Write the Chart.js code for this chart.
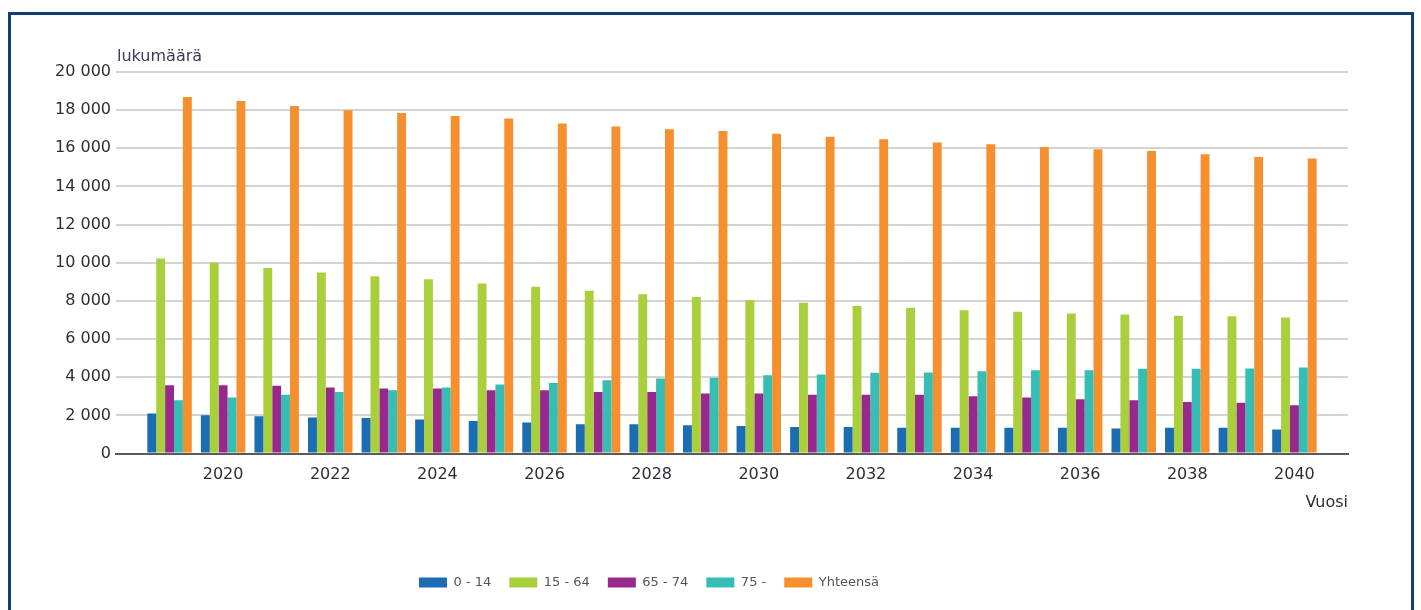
<!DOCTYPE html>
<html lang="fi">
<head>
<meta charset="utf-8">
<title>Väestöennuste ikäryhmittäin</title>
<script src="https://cdn.jsdelivr.net/npm/chart.js@4.4.1/dist/chart.umd.min.js"></script>
<style>
  html, body { margin: 0; padding: 0; background: #fff; overflow: hidden; }
  #wrap { position: relative; width: 1421px; height: 610px; }
  #frame {
    position: absolute; left: 8px; top: 12px; width: 1400px; height: 700px;
    border: 3px solid #133d70; border-bottom: none; pointer-events: none;
  }
  canvas { position: absolute; left: 0; top: 0; }
</style>
</head>
<body>
<div id="wrap">
  <canvas id="chart" width="1421" height="610"></canvas>
  <div id="frame"></div>
</div>
<script>
// --- data ---
const years = [2019, 2020, 2021, 2022, 2023, 2024, 2025, 2026, 2027, 2028, 2029,
               2030, 2031, 2032, 2033, 2034, 2035, 2036, 2037, 2038, 2039, 2040];
const age0to14 = [2100, 2010, 1960, 1890, 1870, 1790, 1710, 1630, 1540, 1540, 1490,
                  1450, 1400, 1400, 1350, 1350, 1350, 1350, 1320, 1350, 1350, 1260];
const age15to64 = [10220, 10010, 9730, 9490, 9300, 9140, 8910, 8740, 8530, 8350, 8210,
                   8040, 7900, 7740, 7650, 7510, 7430, 7340, 7290, 7220, 7200, 7130];
const age65to74 = [3580, 3580, 3550, 3460, 3410, 3410, 3320, 3320, 3230, 3230, 3150,
                   3150, 3090, 3090, 3090, 3010, 2940, 2850, 2800, 2710, 2660, 2540];
const age75plus = [2800, 2940, 3090, 3230, 3320, 3460, 3620, 3700, 3840, 3930, 3970,
                   4100, 4140, 4240, 4250, 4310, 4370, 4370, 4450, 4450, 4460, 4510];
const total = [18690, 18480, 18220, 17990, 17850, 17700, 17560, 17300, 17150, 17000, 16910,
               16770, 16600, 16470, 16300, 16210, 16070, 15950, 15860, 15690, 15550, 15460];

const seriesNames = ['0 - 14', '15 - 64', '65 - 74', '75 -', 'Yhteensä'];
const xTickYears = [2020, 2022, 2024, 2026, 2028, 2030, 2032, 2034, 2036, 2038, 2040];
const yTickValues = [0, 2000, 4000, 6000, 8000, 10000, 12000, 14000, 16000, 18000, 20000];

const COLORS = ['#1a6db3', '#a9cf3c', '#99288e', '#36bdb4', '#f6902e'];
const FONT = "'DejaVu Sans', sans-serif";
const TEXT = '#2e2e3a';

const fmtThousands = v => String(v).replace(/\B(?=(\d{3})+(?!\d))/g, ' ');

// "lukumäärä" sits above the plot's left edge; legend is centred on its own spot
const extrasPlugin = {
  id: 'extras',
  afterLayout(chart) {
    const lg = chart.legend;
    if (lg) {
      const shift = 649 - (lg.left + lg.right) / 2;
      lg.left += shift; lg.right += shift;
    }
  },
  afterDraw(chart) {
    const { ctx, chartArea } = chart;
    ctx.save();
    ctx.font = '16px ' + FONT;
    ctx.fillStyle = '#3a3a58';
    ctx.textBaseline = 'middle';
    ctx.textAlign = 'left';
    ctx.fillText('lukumäärä', chartArea.left + 1, 57);
    ctx.restore();
  }
};

const seriesValues = [age0to14, age15to64, age65to74, age75plus, total];

new Chart(document.getElementById('chart'), {
  type: 'bar',
  data: {
    labels: years,
    datasets: seriesNames.map((name, i) => ({
      label: name,
      data: seriesValues[i],
      backgroundColor: COLORS[i],
      borderWidth: 0,
      categoryPercentage: 0.83,
      barPercentage: 1.0
    }))
  },
  plugins: [extrasPlugin],
  options: {
    responsive: false,
    animation: false,
    layout: { padding: { top: 72, left: 50, right: 73, bottom: 11 } },
    plugins: {
      title: { display: false },
      tooltip: { enabled: false },
      legend: {
        position: 'bottom',
        labels: {
          boxWidth: 28, boxHeight: 10, padding: 18,
          color: '#555', font: { family: FONT, size: 13 }
        }
      }
    },
    scales: {
      x: {
        type: 'linear',
        offset: false,
        min: 2018, max: 2041,
        afterBuildTicks: scale => { scale.ticks = xTickYears.map(v => ({ value: v })); },
        grid: { display: false, drawTicks: false },
        border: { display: true, color: '#5a5a5a', width: 2 },
        ticks: { padding: 12, color: TEXT, font: { family: FONT, size: 16 }, callback: v => String(v) },
        title: {
          display: true, text: 'Vuosi', align: 'end',
          color: TEXT, font: { family: FONT, size: 16 },
          padding: { top: -4, bottom: 46 }
        }
      },
      y: {
        min: 0, max: 20000,
        afterBuildTicks: scale => { scale.ticks = yTickValues.map(v => ({ value: v })); },
        grid: { color: '#d4d4d4', lineWidth: 2, drawTicks: false },
        border: { display: false },
        ticks: { padding: 5, color: TEXT, font: { family: FONT, size: 16 }, callback: v => fmtThousands(v) }
      }
    }
  }
});
</script>
</body>
</html>
